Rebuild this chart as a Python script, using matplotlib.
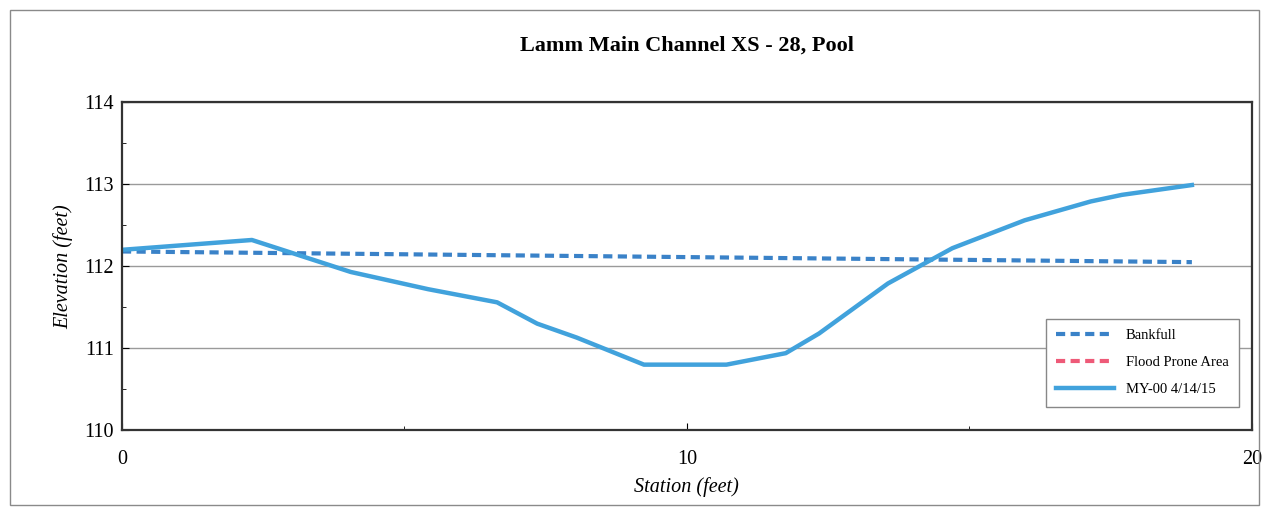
import numpy as np
import matplotlib.pyplot as plt
from matplotlib.patches import Rectangle

# Data
station = [0, 2.3, 4.05, 5.42, 6.64, 7.35, 8.05, 9.24, 10.4, 10.7, 11.75,
           12.34, 13.56, 14.7, 15.98, 17.15, 17.7, 18.94]
elevation = [112.20, 112.32, 111.93, 111.72, 111.56, 111.30, 111.13, 110.80,
             110.80, 110.80, 110.94, 111.18, 111.79, 112.22, 112.56, 112.79,
             112.87, 112.99]
bankfull_x = [0, 18.94]
bankfull_y = [112.18, 112.05]
flood_x = []
flood_y = []

plt.rcParams['font.family'] = ['Liberation Serif', 'DejaVu Serif']

fig = plt.figure(figsize=(12.68, 5.11), dpi=100)
fig.patches.append(Rectangle((0.008, 0.012), 0.985, 0.968, transform=fig.transFigure,
                             fill=False, edgecolor='#8a8a8a', linewidth=1))
ax = fig.add_axes([0.0962, 0.158, 0.891, 0.642])

ax.plot(bankfull_x, bankfull_y, color='#3a82c8', linestyle=(0, (2.2, 1.3)),
        linewidth=3, label='Bankfull')
ax.plot(flood_x, flood_y, color='#ee5a78', linestyle=(0, (2.2, 1.3)),
        linewidth=3, label='Flood Prone Area')
ax.plot(station, elevation, color='#41a2dc', linewidth=3.2, label='MY-00 4/14/15')

ax.set_xlim(0, 20)
ax.set_ylim(110, 114)
ax.set_xticks([0, 10, 20])
ax.set_xticks([5, 15], minor=True)
ax.set_yticks([110, 111, 112, 113, 114])
ax.set_yticks([110.5, 111.5, 112.5, 113.5], minor=True)
ax.yaxis.grid(True, which='major', color='#9a9a9a', linewidth=1)
ax.tick_params(axis='both', which='major', labelsize=14.5, direction='in', length=5)
ax.tick_params(axis='x', which='major', pad=14)
ax.tick_params(axis='y', which='major', pad=6)
ax.tick_params(axis='both', which='minor', direction='in', length=3)
for s in ax.spines.values():
    s.set_linewidth(1.6)
    s.set_color('#333333')

ax.set_title('Lamm Main Channel XS - 28, Pool', fontsize=16, fontweight='bold', pad=37)
ax.set_xlabel('Station (feet)', fontsize=14.5, style='italic', labelpad=6)
ax.set_ylabel('Elevation (feet)', fontsize=14.5, style='italic', labelpad=8)

leg = ax.legend(loc='lower right', bbox_to_anchor=(0.995, 0.05), fontsize=10.5,
                fancybox=False, framealpha=1, edgecolor='#888888',
                handlelength=4, labelspacing=0.95, borderpad=0.7)
leg.get_frame().set_linewidth(1)

fig.savefig('out.png', dpi=100)
